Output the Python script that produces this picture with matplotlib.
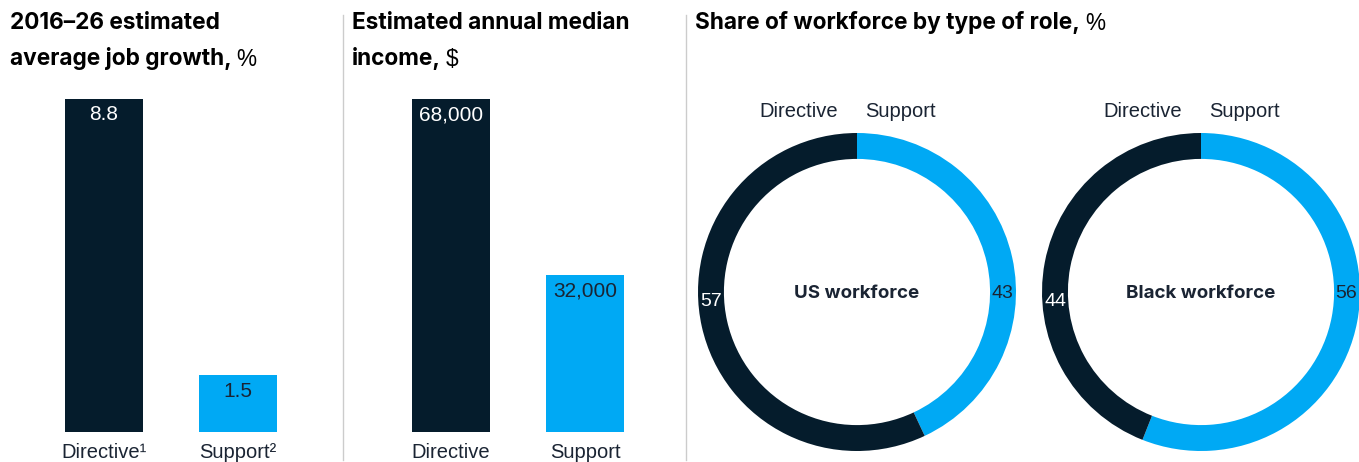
import matplotlib.pyplot as plt
from matplotlib.lines import Line2D

W, H = 1359, 462
fig = plt.figure(figsize=(W / 100, H / 100), dpi=100, facecolor='white')

DARK = '#051c2c'
BLUE = '#00a9f4'
TXT = '#1a2433'

# Data
roles = ['Directive', 'Support']
growth = [8.8, 1.5]
growth_labels = ['8.8', '1.5']
income = [68000, 32000]
income_labels = ['68,000', '32,000']
us_share = [43, 57]       # support, directive
black_share = [56, 44]    # support, directive


def px_axes(x0, y0, x1, y1):
    # pixel box (top-left origin) -> figure axes
    return fig.add_axes([x0 / W, 1 - y1 / H, (x1 - x0) / W, (y1 - y0) / H])


def title(x, y, bold, normal):
    r = fig.canvas.get_renderer()
    t = fig.text(x / W, 1 - y / H, bold, fontsize=16.3, fontweight='bold',
                 family='Inter', color='black', va='center', ha='left')
    bb = t.get_window_extent(renderer=r)
    if normal:
        fig.text(bb.x1 / W + 5 / W, 1 - y / H, normal, fontsize=16.3,
                 family='Liberation Sans', color='black', va='center', ha='left')


def bar_panel(x0, vals, labels, ticklabels):
    ax = px_axes(x0, 99, x0 + 268, 432)
    cols = [DARK, BLUE]
    ax.bar([0, 1], vals, width=0.582, color=cols)
    ax.set_xlim(-0.5, 1.5)
    ax.set_ylim(0, max(vals))
    for i, (v, lab) in enumerate(zip(vals, labels)):
        ax.annotate(lab, (i, v), xytext=(0, -16), textcoords='offset pixels',
                    ha='center', va='center', fontsize=15, family='Liberation Sans',
                    color='white' if i == 0 else TXT)
        ax.annotate(ticklabels[i], (i, 0), xytext=(0, -20), textcoords='offset pixels',
                    ha='center', va='center', fontsize=14.5, family='Liberation Sans',
                    color=TXT)
    ax.set_xticks([])
    ax.set_yticks([])
    for s in ax.spines.values():
        s.set_visible(False)
    return ax


bar_panel(37, growth, growth_labels, ['Directive\u00b9', 'Support\u00b2'])
bar_panel(384, income, income_labels, roles)


def donut(cx, vals, center_text):
    r = 159
    ax = px_axes(cx - r, 292 - r, cx + r, 292 + r)
    ax.pie(vals, colors=[BLUE, DARK], startangle=90, counterclock=False,
           radius=1, wedgeprops=dict(width=0.163, linewidth=0))
    ax.set_xlim(-1, 1)
    ax.set_ylim(-1, 1)
    ax.set_aspect('equal')
    ax.axis('off')
    ax.text(-0.12, 1.135, 'Directive', ha='right', va='center', fontsize=14.5,
            family='Liberation Sans', color=TXT)
    ax.text(0.05, 1.135, 'Support', ha='left', va='center', fontsize=14.5,
            family='Liberation Sans', color=TXT)
    ax.text(-0.915, -0.06, str(vals[1]), ha='center', va='center', fontsize=14,
            family='Liberation Sans', color='white')
    ax.text(0.915, -0.01, str(vals[0]), ha='center', va='center', fontsize=14,
            family='Liberation Sans', color=TXT)
    ax.text(0, -0.01, center_text, ha='center', va='center', fontsize=13.5,
            fontweight='bold', family='Inter', color=TXT)


donut(857, us_share, 'US workforce')
donut(1201, black_share, 'Black workforce')

# dividers
for x in (343, 686):
    fig.add_artist(Line2D([x / W, x / W], [1 - 15 / H, 1 - 460 / H],
                          color='#cccccc', linewidth=1))

title(10, 23, '2016\u201326 estimated', '')
title(10, 59, 'average job growth,', '%')
title(352, 23, 'Estimated annual median', '')
title(352, 59, 'income,', '$')
title(695, 23, 'Share of workforce by type of role,', '%')

fig.savefig('out.png', dpi=100)
